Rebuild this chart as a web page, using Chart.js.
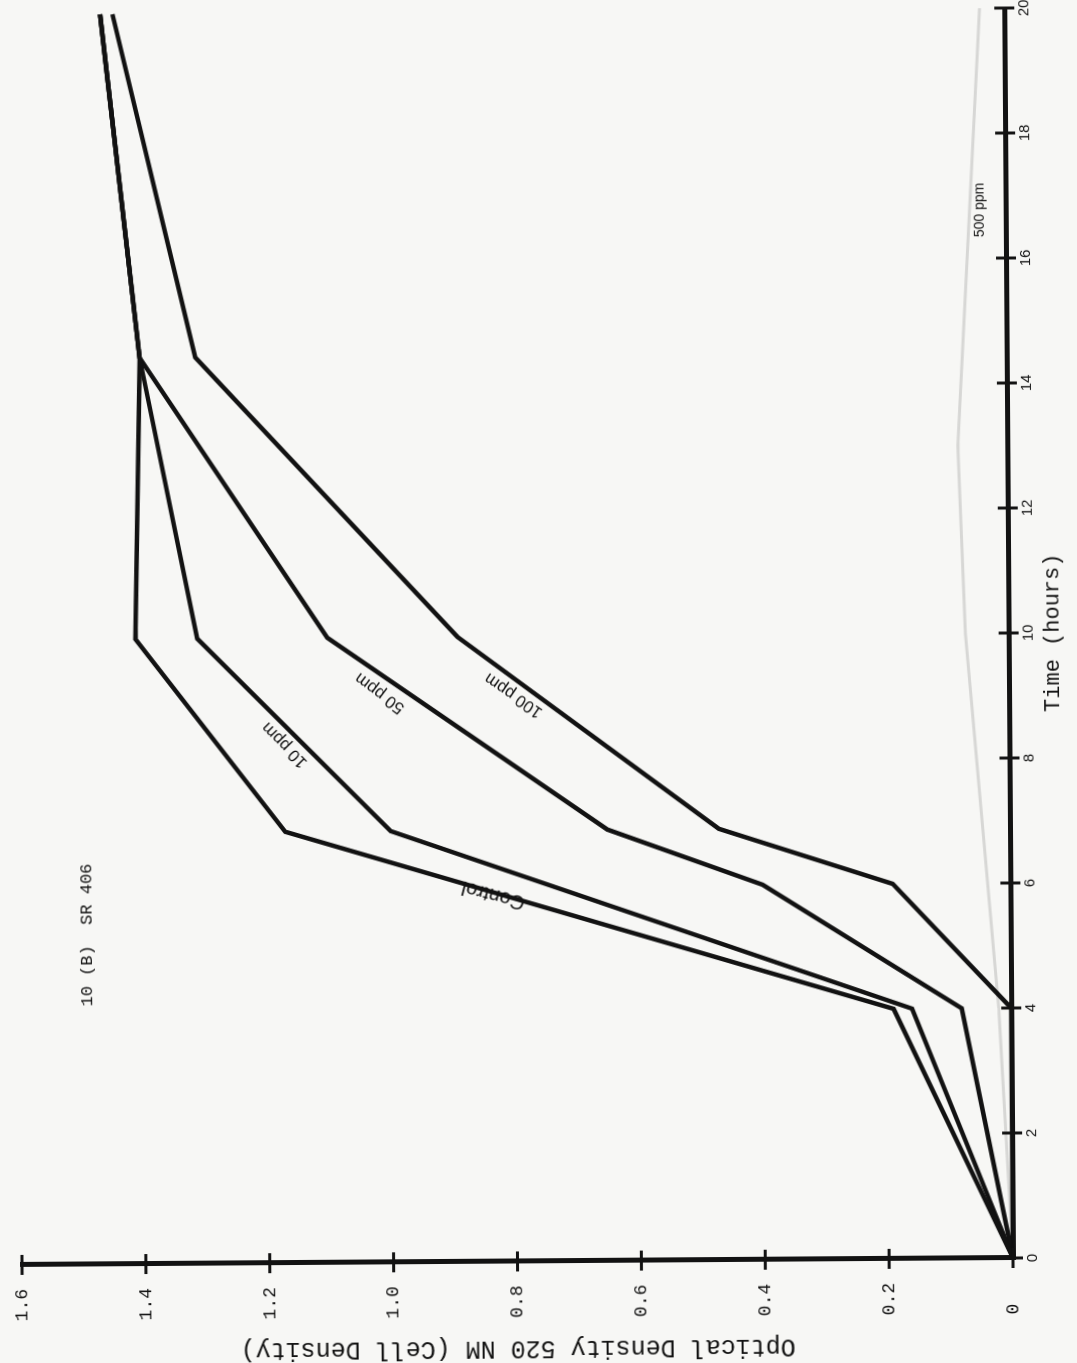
<!DOCTYPE html>
<html>
<head>
<meta charset="utf-8">
<script src="https://cdn.jsdelivr.net/npm/chart.js@4.4.0/dist/chart.umd.min.js"></script>
<style>
html,body{margin:0;padding:0;width:1077px;height:1363px;overflow:hidden;background:#f7f7f5;}
/* the page was scanned on its side (and a little crooked): draw upright, then turn it a quarter left */
#page{position:absolute;left:0;top:0;width:1380px;height:1077px;transform-origin:0 0;
  transform:translate(1013px,1258px) rotate(-0.4deg) translate(-1013px,-1258px) translate(0,1363px) rotate(-90deg);}
</style>
</head>
<body>
<div id="page"><canvas id="growth" width="1380" height="1077"></canvas></div>
<script>
// ---- data (time in hours, optical density) ----
const hoursShort=[0,4,6.9,10,14.5,20];
const hoursLong=[0,4,6,6.9,10,14.5,20];
const hours500=[0,4,10,13,20];
const odControl=[0,0.19,1.17,1.41,1.40,1.46];
const od10ppm=[0,0.16,1.00,1.31,1.40,1.46];
const od50ppm=[0,0.08,0.40,0.65,1.10,1.40,1.46];
const od100ppm=[0,0,0.19,0.47,0.89,1.31,1.44];
const od500ppm=[0,0.02,0.07,0.08,0.04];
const timeTicks=[0,2,4,6,8,10,12,14,16,18,20];
const odTicks=[0,0.2,0.4,0.6,0.8,1.0,1.2,1.4,1.6];

// curve labels, anchored in data units (t, od), angle in degrees
const curveLabels=[
  {text:'Control',t:5.87,od:0.835,angle:-75,font:'20px "Liberation Sans"'},
  {text:'10 ppm',t:8.29,od:1.17,angle:-44,font:'17px "Liberation Sans"'},
  {text:'50 ppm',t:9.11,od:1.016,angle:-53,font:'17px "Liberation Sans"'},
  {text:'100 ppm',t:9.06,od:0.80,angle:-55,font:'17px "Liberation Sans"'},
  {text:'500 ppm',t:16.77,od:0.041,angle:0,font:'14px "Liberation Sans"'},
  {text:'10 (B)  SR 406',t:5.27,od:1.491,angle:0,font:'17px "Liberation Mono"'}
];

const ink='#121212';
const pts=(xs,ys)=>xs.map((x,i)=>({x:x,y:ys[i]}));
const curve=(label,data,color,width)=>({label,data,showLine:true,borderColor:color,borderWidth:width,
  pointRadius:0,tension:0,fill:false,clip:false,borderJoinStyle:'miter'});

// tick marks that cross the axis line, like the hand-drawn ones
const crossTicks={
  id:'crossTicks',
  afterDraw(chart){
    const {ctx,scales:{x,y},chartArea:a}=chart;
    ctx.save(); ctx.strokeStyle=ink; ctx.lineWidth=3;
    timeTicks.forEach(t=>{const px=x.getPixelForValue(t);ctx.beginPath();ctx.moveTo(px,a.bottom-10);ctx.lineTo(px,a.bottom+10);ctx.stroke();});
    odTicks.forEach(v=>{const py=y.getPixelForValue(v);ctx.beginPath();ctx.moveTo(a.left-10,py);ctx.lineTo(a.left+10,py);ctx.stroke();});
    ctx.restore();
  }
};

const textLabels={
  id:'textLabels',
  afterDatasetsDraw(chart){
    const {ctx,scales:{x,y}}=chart;
    curveLabels.forEach(l=>{
      ctx.save();
      ctx.translate(x.getPixelForValue(l.t),y.getPixelForValue(l.od));
      ctx.rotate(l.angle*Math.PI/180);
      ctx.font=l.font; ctx.fillStyle=ink; ctx.textAlign='center'; ctx.textBaseline='middle';
      ctx.fillText(l.text,0,0);
      ctx.restore();
    });
  }
};

new Chart(document.getElementById('growth'),{
  type:'scatter',
  data:{datasets:[
    curve('500 ppm',pts(hours500,od500ppm),'rgba(0,0,0,0.13)',3),
    curve('Control',pts(hoursShort,odControl),ink,4.5),
    curve('10 ppm',pts(hoursShort,od10ppm),ink,4.5),
    curve('50 ppm',pts(hoursLong,od50ppm),ink,4.5),
    curve('100 ppm',pts(hoursLong,od100ppm),ink,4.5)
  ]},
  options:{
    responsive:false,animation:false,
    layout:{padding:{top:22,right:25,bottom:0,left:0}},
    plugins:{legend:{display:false},tooltip:{enabled:false}},
    scales:{
      x:{type:'linear',position:'bottom',min:0,max:20,
        afterFit:s=>{s.height=64;s.paddingLeft=0;s.paddingRight=0;},
        afterBuildTicks:s=>{s.ticks=timeTicks.map(v=>({value:v}));},
        grid:{display:false,drawTicks:false},border:{display:true,width:5,color:ink},
        ticks:{color:ink,padding:11,maxRotation:0,autoSkip:false,font:{family:'"Liberation Sans"',size:15}},
        title:{display:true,text:'Time (hours)',color:ink,padding:{top:0,bottom:7},font:{family:'"Liberation Mono"',size:22}}},
      y:{type:'linear',position:'left',min:0,max:1.6,
        afterFit:s=>{s.width=105;s.paddingTop=0;s.paddingBottom=0;},
        afterBuildTicks:s=>{s.ticks=odTicks.map(v=>({value:v}));},
        grid:{display:false,drawTicks:false},border:{display:true,width:5,color:ink},
        ticks:{color:ink,padding:24,autoSkip:false,font:{family:'"Liberation Mono"',size:18},
          callback:v=>v===0?'0  ':v.toFixed(1)},
        title:{display:true,text:'Optical Density 520 NM (Cell Density)',color:ink,padding:{top:3,bottom:0},font:{family:'"Liberation Mono"',size:25}}}
    }
  },
  plugins:[crossTicks,textLabels]
});
</script>
</body>
</html>
